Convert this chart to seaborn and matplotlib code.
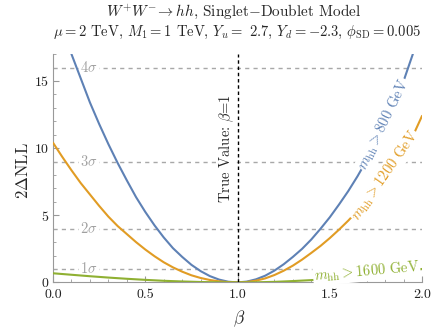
import matplotlib
matplotlib.use("Agg")
import matplotlib.pyplot as plt
import pandas as pd
import seaborn as sns
from matplotlib.ticker import MultipleLocator, FormatStrFormatter

# values
beta_800 = [0.10, 0.15, 0.20, 0.25, 0.30, 0.35, 0.40, 0.45, 0.50, 0.55,
            0.60, 0.65, 0.70, 0.75, 0.80, 0.85, 0.90, 0.95, 1.00, 1.05,
            1.10, 1.15, 1.20, 1.25, 1.30, 1.35, 1.40, 1.45, 1.50, 1.55,
            1.60, 1.65, 1.70, 1.75, 1.80, 1.85, 1.90, 1.95]
nll_800 = [17.0, 15.2, 13.4, 11.8, 10.3, 8.9, 7.6, 6.35, 5.25, 4.25,
           3.35, 2.55, 1.9, 1.31, 0.84, 0.47, 0.21, 0.05, 0.0, 0.06,
           0.23, 0.5, 0.88, 1.35, 1.9, 2.5, 3.2, 4.0, 4.85, 5.8,
           6.8, 7.9, 9.1, 10.4, 11.8, 13.3, 15.0, 17.0]

beta_1200 = [0.00, 0.05, 0.10, 0.15, 0.20, 0.25, 0.30, 0.35, 0.40, 0.45,
             0.50, 0.55, 0.60, 0.65, 0.70, 0.75, 0.80, 0.85, 0.90, 0.95,
             1.00, 1.05, 1.10, 1.15, 1.20, 1.25, 1.30, 1.35, 1.40, 1.45,
             1.50, 1.55, 1.60, 1.65, 1.70, 1.75, 1.80, 1.85, 1.90, 1.95, 2.00]
nll_1200 = [10.4, 9.35, 8.35, 7.4, 6.55, 5.7, 4.9, 4.2, 3.6, 3.0,
            2.45, 1.95, 1.5, 1.12, 0.8, 0.53, 0.33, 0.18, 0.08, 0.02,
            0.0, 0.03, 0.13, 0.3, 0.55, 0.87, 1.25, 1.7, 2.2, 2.72,
            3.3, 3.93, 4.6, 5.33, 6.1, 6.9, 7.7, 8.7, 9.7, 10.9, 12.4]

beta_1600 = [0.0, 0.1, 0.2, 0.3, 0.4, 0.5, 0.6, 0.7, 0.8, 0.9, 1.0,
             1.1, 1.2, 1.3, 1.4, 1.5, 1.6, 1.7, 1.8, 1.9, 2.0]
nll_1600 = [0.68, 0.57, 0.46, 0.36, 0.27, 0.19, 0.12, 0.07, 0.03, 0.01, 0.0,
            0.01, 0.04, 0.1, 0.17, 0.26, 0.37, 0.5, 0.64, 0.81, 1.0]

cuts = ["800", "1200", "1600"]
colors = ["#5e81b5", "#e19c24", "#8fb032"]
sigma_levels = [1, 4, 9, 16]
sigma_names = ["1", "2", "3", "4"]

sns.set_style("ticks")
plt.rcParams["font.family"] = "serif"
plt.rcParams["font.serif"] = ["cmr10", "DejaVu Serif"]
plt.rcParams["mathtext.fontset"] = "cm"
plt.rcParams["axes.formatter.use_mathtext"] = True
plt.rcParams["axes.unicode_minus"] = False

df = pd.concat([
    pd.DataFrame({"beta": beta_800, "nll": nll_800, "cut": "800"}),
    pd.DataFrame({"beta": beta_1200, "nll": nll_1200, "cut": "1200"}),
    pd.DataFrame({"beta": beta_1600, "nll": nll_1600, "cut": "1600"}),
])

fig = plt.figure(figsize=(4.36, 3.28), dpi=100)
ax = fig.add_axes([0.1216, 0.139, 0.8464, 0.696])

#sigma lines and labels
for lvl, name in zip(sigma_levels, sigma_names):
    ax.axhline(lvl, color="#a8a8a8", lw=1.0, ls=(0, (3, 3)), zorder=1)
    ax.text(0.195, lvl, rf"${name}\sigma$", color="#a0a0a0", fontsize=10.5,
            ha="center", va="center", zorder=2,
            bbox=dict(facecolor="white", edgecolor="none", pad=1.0))

sns.lineplot(data=df, x="beta", y="nll", hue="cut", hue_order=cuts,
             palette=colors, lw=1.5, legend=False, ax=ax, zorder=3)

ax.axvline(1.0, color="black", lw=1.0, ls=(0, (2.5, 2)), zorder=4)
ax.text(0.94, 10.0, r"True Value: $\beta$=1", rotation=90, fontsize=10.5,
        ha="center", va="center", zorder=5,
        bbox=dict(facecolor="white", edgecolor="none", pad=0.3))

#curve labels
ax.text(1.794, 11.75, r"$m_{\rm hh} > 800$ GeV", color=colors[0], fontsize=10.5,
        rotation=64, rotation_mode="anchor", ha="center", va="center", zorder=6,
        bbox=dict(facecolor="white", edgecolor="none", pad=0.5))
ax.text(1.80, 7.93, r"$m_{\rm hh} > 1200$ GeV", color=colors[1], fontsize=10.5,
        rotation=55, rotation_mode="anchor", ha="center", va="center", zorder=6,
        bbox=dict(facecolor="white", edgecolor="none", pad=0.5))
ax.text(1.70, 0.78, r"$m_{\rm hh} > 1600$ GeV", color=colors[2], fontsize=10.5,
        rotation=5, rotation_mode="anchor", ha="center", va="center", zorder=6,
        bbox=dict(facecolor="white", edgecolor="none", pad=0.5))

ax.set_xlim(0, 2)
ax.set_ylim(0, 17)
ax.xaxis.set_major_locator(MultipleLocator(0.5))
ax.xaxis.set_minor_locator(MultipleLocator(0.1))
ax.yaxis.set_major_locator(MultipleLocator(5))
ax.yaxis.set_minor_locator(MultipleLocator(1))
ax.xaxis.set_major_formatter(FormatStrFormatter("%.1f"))
ax.tick_params(which="both", direction="in", color="#999999", labelsize=10,
               labelcolor="#222222")
ax.tick_params(which="major", length=4, width=0.8)
ax.tick_params(which="minor", length=2.2, width=0.6)
ax.tick_params(axis="x", pad=5)
ax.tick_params(axis="y", pad=3)
sns.despine(ax=ax)
for side in ["left", "bottom"]:
    ax.spines[side].set_color("#999999")
    ax.spines[side].set_linewidth(0.8)

ax.set_xlabel(r"$\beta$", fontsize=12.5, va="center")
ax.set_ylabel(r"2$\Delta$NLL", fontsize=12, va="center")
ax.xaxis.set_label_coords(0.504, -0.16)
ax.yaxis.set_label_coords(-0.081, 0.49)

fig.text(0.535, 0.963, r"$W^{+}W^{-}\!\rightarrow hh$, Singlet$-$Doublet Model",
         ha="center", va="center", fontsize=11)
fig.text(0.544, 0.900,
         r"$\mu = 2$ TeV, $M_1 = 1$ TeV, $Y_u =$ 2.7, $Y_d = -2.3$, $\phi_{\rm SD} = 0.005$",
         ha="center", va="center", fontsize=10.5)

fig.savefig("out.png", dpi=100)
